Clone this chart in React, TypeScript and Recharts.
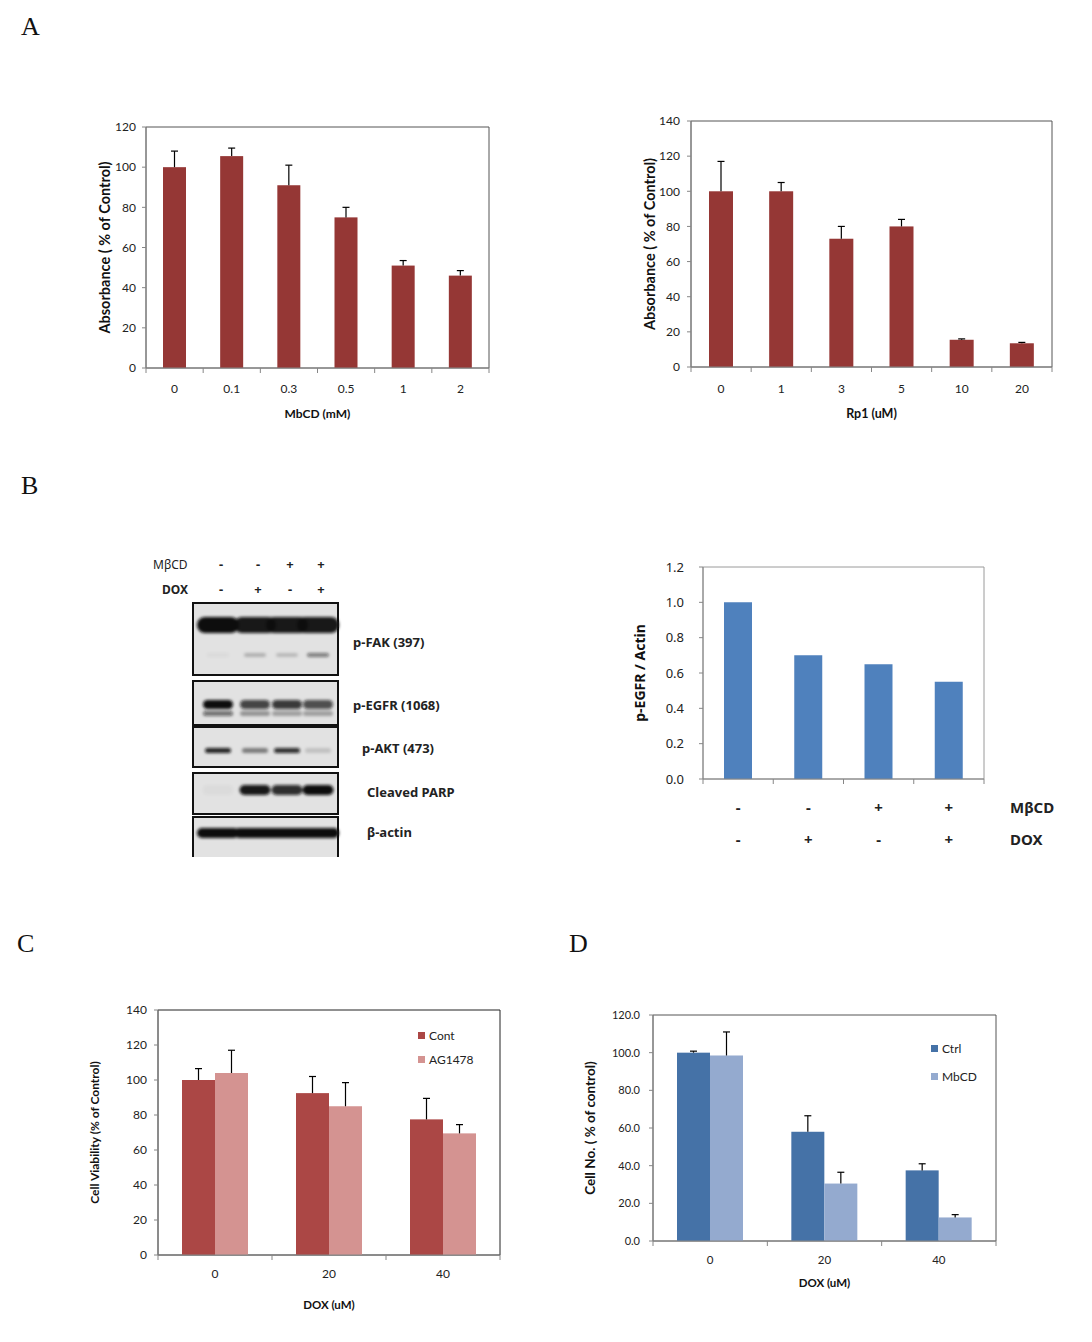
import React from 'react';
import { BarChart, Bar, XAxis, YAxis, ReferenceArea, Legend } from 'recharts';

// ---------- Panel A (left): MbCD dose response ----------
const mbcdDoses = ['0', '0.1', '0.3', '0.5', '1', '2'];
const mbcdAbsorbance = [100, 105.5, 91, 75, 51, 46];
const mbcdAbsorbanceSD = [8, 4, 10, 5, 2.5, 2.5];
const absTicksA = [0, 20, 40, 60, 80, 100, 120];

// ---------- Panel A (right): Rp1 dose response ----------
const rp1Doses = ['0', '1', '3', '5', '10', '20'];
const rp1Absorbance = [100, 100, 73, 80, 15.5, 13.5];
const rp1AbsorbanceSD = [17, 5, 7, 4, 0.5, 0.5];
const absTicksB = [0, 20, 40, 60, 80, 100, 120, 140];

// ---------- Panel B: western blot + quantification ----------
const laneMbcd = ['-', '-', '+', '+'];
const laneDox = ['-', '+', '-', '+'];
const egfrActinRatio = [1.0, 0.7, 0.65, 0.55];
const ratioTicks = [0, 0.2, 0.4, 0.6, 0.8, 1.0, 1.2];

// blot band intensities per lane (0..1)
const fakMainBand = [1, 0.95, 0.95, 0.95];
const fakMinorBand = [0.04, 0.22, 0.18, 0.5];
const egfrUpperBand = [1, 0.75, 0.8, 0.7];
const egfrLowerBand = [0.55, 0.35, 0.3, 0.3];
const aktBand = [0.9, 0.45, 0.85, 0.15];
const parpBand = [0.03, 0.95, 0.85, 1];
const actinBand = [1, 1, 1, 1];

// ---------- Panel C: DOX +/- AG1478 ----------
const doxDoses = ['0', '20', '40'];
const viabilityCont = [100, 92.5, 77.5];
const viabilityContSD = [6.5, 9.5, 12];
const viabilityAG = [104, 85, 69.5];
const viabilityAGSD = [13, 13.5, 5];
const viabilityTicks = [0, 20, 40, 60, 80, 100, 120, 140];
const legendOrderC = ['Cont', 'AG1478'];

// ---------- Panel D: DOX +/- MbCD ----------
const cellNoCtrl = [100, 58, 37.5];
const cellNoCtrlSD = [0.8, 8.5, 3.5];
const cellNoMbcd = [98.5, 30.5, 12.5];
const cellNoMbcdSD = [12.5, 6, 1.5];
const cellNoTicks = [0, 20, 40, 60, 80, 100, 120];
const legendOrderD = ['Ctrl', 'MbCD'];

// ---------- tables built from arrays ----------
const dataAL = mbcdDoses.map((d, i) => ({ dose: d, value: mbcdAbsorbance[i], sd: mbcdAbsorbanceSD[i] }));
const dataAR = rp1Doses.map((d, i) => ({ dose: d, value: rp1Absorbance[i], sd: rp1AbsorbanceSD[i] }));
const dataB = egfrActinRatio.map((r, i) => ({ lane: String(i + 1), ratio: r, mbcd: laneMbcd[i], dox: laneDox[i] }));
const dataC = doxDoses.map((d, i) => ({
  dose: d, cont: viabilityCont[i], contSd: viabilityContSD[i], ag: viabilityAG[i], agSd: viabilityAGSD[i],
}));
const dataD = doxDoses.map((d, i) => ({
  dose: d, ctrl: cellNoCtrl[i], ctrlSd: cellNoCtrlSD[i], mbcd: cellNoMbcd[i], mbcdSd: cellNoMbcdSD[i],
}));

const FONT_XL = 'Lato, "Liberation Sans", sans-serif';
const FONT_KR = '"Noto Sans", "DejaVu Sans", sans-serif';
const AXIS_GREY = '#868686';
const BORDER = '#555555';
const TEXT = '#222222';

// bar with plus-only error bar (scale derived from bar's own height/value)
const makeErrShape = (sdKey: string) => (props: any) => {
  const { x, y, width, height, fill, payload, value } = props;
  const v = Array.isArray(value) ? value[1] - value[0] : value;
  const sd = payload ? payload[sdKey] : 0;
  const k = v ? height / v : 0;
  const top = y - sd * k;
  const cx = x + width / 2;
  return (
    <g>
      <rect x={x} y={y} width={width} height={height} fill={fill} />
      {sd > 0 && (
        <g stroke="#000" strokeWidth={1.2}>
          <line x1={cx} x2={cx} y1={y} y2={top} />
          <line x1={cx - 3.5} x2={cx + 3.5} y1={top} y2={top} />
        </g>
      )}
    </g>
  );
};

// category tick: label at centre, tick marks at band boundaries (Excel style)
const makeBandTick = (o: { n: number; dy: number; fontSize: number; half: number }) => (props: any) => {
  const { x, y, payload, index } = props;
  const half = payload && typeof payload.offset === 'number' && payload.offset > 0 ? payload.offset : o.half;
  return (
    <g>
      <line x1={x - half} x2={x - half} y1={y} y2={y + 5} stroke={AXIS_GREY} />
      {index === o.n - 1 && <line x1={x + half} x2={x + half} y1={y} y2={y + 5} stroke={AXIS_GREY} />}
      <text x={x} y={y + o.dy} textAnchor="middle" dominantBaseline="central" fontSize={o.fontSize} fontFamily={FONT_XL} fill={TEXT}>
        {payload.value}
      </text>
    </g>
  );
};

const tickB = (props: any) => {
  const { x, y, index } = props;
  const half = props.payload && typeof props.payload.offset === 'number' && props.payload.offset > 0 ? props.payload.offset : 35;
  const st = { fontFamily: FONT_KR, fontWeight: 700, fontSize: 15, fill: TEXT };
  return (
    <g>
      <line x1={x - half} x2={x - half} y1={y} y2={y + 5} stroke={AXIS_GREY} />
      {index === dataB.length - 1 && <line x1={x + half} x2={x + half} y1={y} y2={y + 5} stroke={AXIS_GREY} />}
      <text x={x} y={y + 28} textAnchor="middle" dominantBaseline="central" {...st}>{laneMbcd[index]}</text>
      <text x={x} y={y + 60} textAnchor="middle" dominantBaseline="central" {...st}>{laneDox[index]}</text>
      {index === dataB.length - 1 && (
        <g>
          <text x={x + half + 26} y={y + 28} dominantBaseline="central" {...st}>MβCD</text>
          <text x={x + half + 26} y={y + 60} dominantBaseline="central" {...st}>DOX</text>
        </g>
      )}
    </g>
  );
};

const yLabel = (value: string, offset: number, fontSize: number, family = FONT_XL) => ({
  value,
  angle: -90,
  position: 'insideLeft' as const,
  offset,
  style: { textAnchor: 'middle', fontWeight: 700, fontSize, fontFamily: family, fill: '#111' },
});

const xLabel = (value: string, offset: number, fontSize: number) => ({
  value,
  position: 'insideBottom' as const,
  offset,
  style: { textAnchor: 'middle', fontWeight: 700, fontSize, fontFamily: FONT_XL, fill: '#111' },
});

const legendContent = (rowH: number, order: string[]) => (props: any) => {
  const items = [...(props.payload || [])].sort(
    (a: any, b: any) => order.indexOf(String(a.value)) - order.indexOf(String(b.value))
  );
  return (
    <div style={{ fontFamily: FONT_XL, fontSize: 12, color: TEXT }}>
      {items.map((p: any, i: number) => (
        <div key={i} style={{ display: 'flex', alignItems: 'center', height: rowH }}>
          <span style={{ width: 7, height: 7, background: p.color, marginRight: 4, display: 'inline-block' }} />
          <span>{p.value}</span>
        </div>
      ))}
    </div>
  );
};

const Blot = () => {
  const lanes = [218, 255, 287, 318];
  const panels = [
    { y: 603, h: 72, label: 'p-FAK (397)', lx: 353, ly: 642 },
    { y: 681, h: 44, label: 'p-EGFR (1068)', lx: 353, ly: 705 },
    { y: 727, h: 40, label: 'p-AKT (473)', lx: 362, ly: 748 },
    { y: 773, h: 41, label: 'Cleaved PARP', lx: 367, ly: 792 },
    { y: 817, h: 40, label: 'β-actin', lx: 367, ly: 832 },
  ];
  const bands = [
    { vals: fakMainBand, y: 617, h: 16, w: 42 },
    { vals: fakMinorBand, y: 653, h: 4, w: 22 },
    { vals: egfrUpperBand, y: 700, h: 9, w: 30 },
    { vals: egfrLowerBand, y: 711, h: 5, w: 30 },
    { vals: aktBand, y: 748, h: 5, w: 26 },
    { vals: parpBand, y: 785, h: 10, w: 31 },
    { vals: actinBand, y: 828, h: 10, w: 42 },
  ];
  const txt = { fontFamily: FONT_KR, fontWeight: 700, fontSize: 13, fill: TEXT };
  return (
    <svg width={360} height={320} style={{ position: 'absolute', left: 130, top: 545 }}>
      <defs>
        <filter id="blotblur" x="-20%" y="-100%" width="140%" height="300%">
          <feGaussianBlur stdDeviation="1.8" />
        </filter>
      </defs>
      <g transform="translate(-130,-545)">
        <text x={153} y={564} dominantBaseline="central" fontFamily={FONT_KR} fontSize={12} fill={TEXT}>MβCD</text>
        <text x={162} y={589} dominantBaseline="central" {...txt} fontSize={12}>DOX</text>
        {lanes.map((lx, i) => (
          <g key={i}>
            <text x={lx + 3} y={564} textAnchor="middle" dominantBaseline="central" {...txt}>{laneMbcd[i]}</text>
            <text x={lx + 3} y={589} textAnchor="middle" dominantBaseline="central" {...txt}>{laneDox[i]}</text>
          </g>
        ))}
        {panels.map((p, i) => (
          <g key={i}>
            <rect x={193} y={p.y} width={145} height={p.h} fill="#e2e2e2" />
            {i < panels.length - 1 ? (
              <rect x={193} y={p.y} width={145} height={p.h} fill="none" stroke="#111" strokeWidth={2} />
            ) : (
              <path d={`M193,${p.y + p.h} V${p.y} H338 V${p.y + p.h}`} fill="none" stroke="#111" strokeWidth={2} />
            )}
            <text x={p.lx} y={p.ly} dominantBaseline="central" {...txt}>{p.label}</text>
          </g>
        ))}
        <g filter="url(#blotblur)">
          {bands.map((b, bi) =>
            b.vals.map((v, i) => (
              <rect key={`${bi}-${i}`} x={lanes[i] - b.w / 2} y={b.y} width={b.w} height={b.h} rx={b.h / 2}
                fill="#0d0d0d" opacity={v} />
            ))
          )}
        </g>
      </g>
    </svg>
  );
};

const yTick = (fontSize: number, family = FONT_XL) => ({ fill: TEXT, fontSize, fontFamily: family });

export default function App() {
  const letter = { position: 'absolute' as const, fontFamily: '"Liberation Serif", "DejaVu Serif", serif', fontSize: 26, lineHeight: '30px', color: '#111' };
  return (
    <div style={{ position: 'absolute', left: 0, top: 0, width: 1092, height: 1342, background: '#fff' }}>
      <div style={{ ...letter, left: 21, top: 12 }}>A</div>
      <div style={{ ...letter, left: 21, top: 471 }}>B</div>
      <div style={{ ...letter, left: 17, top: 929 }}>C</div>
      <div style={{ ...letter, left: 569, top: 929 }}>D</div>

      {/* Panel A left */}
      <div style={{ position: 'absolute', left: 60, top: 110 }}>
        <BarChart width={450} height={330} data={dataAL} margin={{ top: 17, right: 21, left: 0, bottom: 0 }}>
          <ReferenceArea y1={0} y2={120} fill="none" stroke={BORDER} ifOverflow="visible" />
          <XAxis dataKey="dose" height={72} tickLine={false} tickSize={0} tickMargin={0} interval={0}
            axisLine={{ stroke: AXIS_GREY }} tick={makeBandTick({ n: 6, dy: 20, fontSize: 12, half: 28.6 })}
            label={xLabel('MbCD (mM)', 22, 12)} />
          <YAxis width={86} domain={[0, 120]} ticks={absTicksA} interval={0} tickSize={4} tickMargin={6}
            axisLine={{ stroke: AXIS_GREY }} tickLine={{ stroke: AXIS_GREY }} tick={yTick(12)}
            label={yLabel('Absorbance  ( % of Control)', 45, 14.5)} />
          <Bar dataKey="value" fill="#953735" barSize={23} isAnimationActive={false} shape={makeErrShape('sd')} />
        </BarChart>
      </div>

      {/* Panel A right */}
      <div style={{ position: 'absolute', left: 600, top: 100 }}>
        <BarChart width={470} height={340} data={dataAR} margin={{ top: 21, right: 18, left: 0, bottom: 0 }}>
          <ReferenceArea y1={0} y2={140} fill="none" stroke={BORDER} ifOverflow="visible" />
          <XAxis dataKey="dose" height={73} tickLine={false} tickSize={0} tickMargin={0} interval={0}
            axisLine={{ stroke: AXIS_GREY }} tick={makeBandTick({ n: 6, dy: 21, fontSize: 12, half: 30 })}
            label={xLabel('Rp1 (uM)', 22, 12.5)} />
          <YAxis width={91} domain={[0, 140]} ticks={absTicksB} interval={0} tickSize={4} tickMargin={7}
            axisLine={{ stroke: AXIS_GREY }} tickLine={{ stroke: AXIS_GREY }} tick={yTick(12)}
            label={yLabel('Absorbance  ( % of Control)', 50, 14.5)} />
          <Bar dataKey="value" fill="#953735" barSize={24} isAnimationActive={false} shape={makeErrShape('sd')} />
        </BarChart>
      </div>

      {/* Panel B blot */}
      <Blot />

      {/* Panel B right */}
      <div style={{ position: 'absolute', left: 600, top: 550 }}>
        <BarChart width={470} height={310} data={dataB} margin={{ top: 17, right: 86, left: 0, bottom: 0 }}>
          <ReferenceArea y1={0} y2={1.2} fill="none" stroke="#9a9a9a" ifOverflow="visible" />
          <XAxis dataKey="lane" height={81} tickLine={false} tickSize={0} tickMargin={0} interval={0}
            axisLine={{ stroke: AXIS_GREY }} tick={tickB} />
          <YAxis width={103} domain={[0, 1.2]} ticks={ratioTicks} interval={0} tickSize={4} tickMargin={15}
            tickFormatter={(v: number) => v.toFixed(1)}
            axisLine={{ stroke: AXIS_GREY }} tickLine={{ stroke: AXIS_GREY }} tick={yTick(13, FONT_KR)}
            label={yLabel('p-EGFR / Actin', 40, 14, FONT_KR)} />
          <Bar dataKey="ratio" fill="#4F81BD" barSize={28} isAnimationActive={false} />
        </BarChart>
      </div>

      {/* Panel C */}
      <div style={{ position: 'absolute', left: 70, top: 995 }}>
        <BarChart width={440} height={320} data={dataC} barGap={0} margin={{ top: 15, right: 10, left: 0, bottom: 0 }}>
          <ReferenceArea y1={0} y2={140} fill="none" stroke="#222" ifOverflow="visible" />
          <XAxis dataKey="dose" height={60} tickLine={false} tickSize={0} tickMargin={0} interval={0}
            axisLine={{ stroke: AXIS_GREY }} tick={makeBandTick({ n: 3, dy: 18, fontSize: 12, half: 57 })}
            label={xLabel('DOX (uM)', 6, 11.5)} />
          <YAxis width={88} domain={[0, 140]} ticks={viabilityTicks} interval={0} tickSize={4} tickMargin={7}
            axisLine={{ stroke: AXIS_GREY }} tickLine={{ stroke: AXIS_GREY }} tick={yTick(12)}
            label={yLabel('Cell Viability (% of Control)', 25, 12)} />
          <Legend layout="horizontal" verticalAlign="middle" align="center"
            wrapperStyle={{ left: 348, top: 28, width: 'auto' }} content={legendContent(24, legendOrderC)} />
          <Bar dataKey="cont" name="Cont" fill="#AB4745" barSize={33} isAnimationActive={false} shape={makeErrShape('contSd')} />
          <Bar dataKey="ag" name="AG1478" fill="#D49391" barSize={33} isAnimationActive={false} shape={makeErrShape('agSd')} />
        </BarChart>
      </div>

      {/* Panel D */}
      <div style={{ position: 'absolute', left: 580, top: 1000 }}>
        <BarChart width={430} height={300} data={dataD} barGap={0} margin={{ top: 15, right: 14, left: 0, bottom: 0 }}>
          <ReferenceArea y1={0} y2={120} fill="none" stroke={BORDER} ifOverflow="visible" />
          <XAxis dataKey="dose" height={59} tickLine={false} tickSize={0} tickMargin={0} interval={0}
            axisLine={{ stroke: AXIS_GREY }} tick={makeBandTick({ n: 3, dy: 18, fontSize: 11.5, half: 57 })}
            label={xLabel('DOX (uM)', 13, 11.5)} />
          <YAxis width={73} domain={[0, 120]} ticks={cellNoTicks} interval={0} tickSize={4} tickMargin={9}
            tickFormatter={(v: number) => v.toFixed(1)}
            axisLine={{ stroke: AXIS_GREY }} tickLine={{ stroke: AXIS_GREY }} tick={yTick(11)}
            label={yLabel('Cell No. ( % of control)', 10, 13.5)} />
          <Legend layout="horizontal" verticalAlign="middle" align="center"
            wrapperStyle={{ left: 351, top: 34, width: 'auto' }} content={legendContent(28, legendOrderD)} />
          <Bar dataKey="ctrl" name="Ctrl" fill="#4572A7" barSize={33} isAnimationActive={false} shape={makeErrShape('ctrlSd')} />
          <Bar dataKey="mbcd" name="MbCD" fill="#94AACF" barSize={33} isAnimationActive={false} shape={makeErrShape('mbcdSd')} />
        </BarChart>
      </div>
    </div>
  );
}
